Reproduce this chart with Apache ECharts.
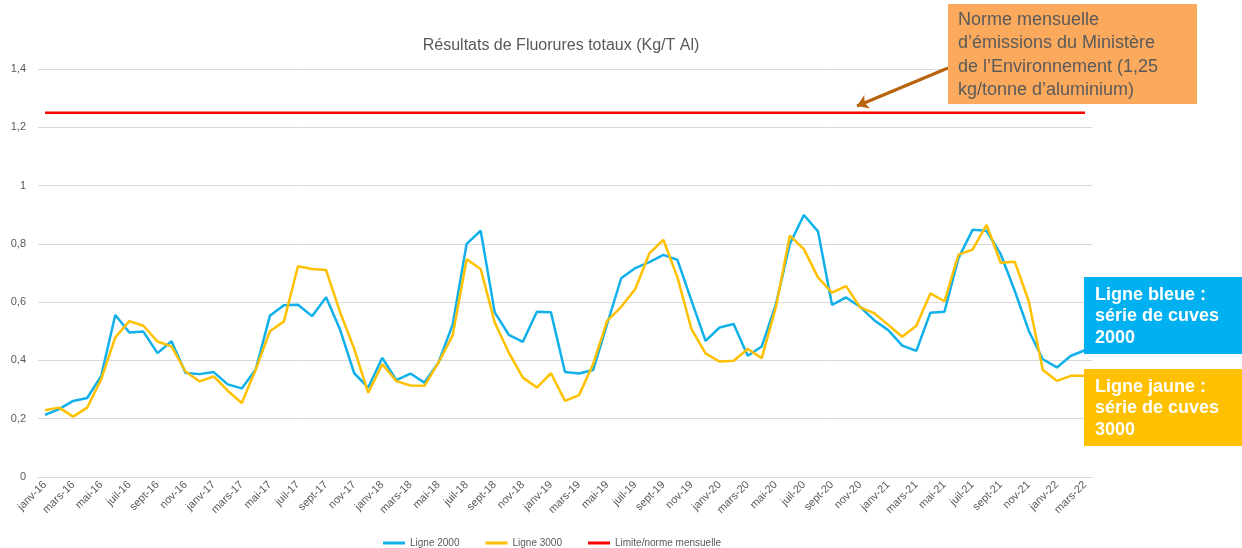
<!DOCTYPE html>
<html>
<head>
<meta charset="utf-8">
<script src="https://cdn.jsdelivr.net/npm/echarts@6/dist/echarts.min.js"></script>
<style>
  html, body { margin: 0; padding: 0; background: #fff; }
  #chart { width: 1242px; height: 548px; }
</style>
</head>
<body>
<div id="chart"></div>
<script>
// mois de janv-16 à mars-22
const monthNames = ["janv", "févr", "mars", "avr", "mai", "juin", "juil", "août", "sept", "oct", "nov", "déc"];
const months = [];
for (let y = 16; y <= 22; y++) {
  for (let m = 0; m < 12; m++) {
    if (y === 22 && m > 2) break;
    months.push(monthNames[m] + "-" + y);
  }
}

// Ligne 2000 (bleue)
const ligne2000 = [
  0.213, 0.233, 0.261, 0.271, 0.347, 0.556, 0.496, 0.499, 0.425, 0.466, 0.357, 0.353,
  0.360, 0.318, 0.304, 0.370, 0.553, 0.589, 0.591, 0.552, 0.617, 0.505, 0.356, 0.307,
  0.409, 0.332, 0.355, 0.324, 0.393, 0.522, 0.800, 0.845, 0.565, 0.488, 0.464, 0.567,
  0.565, 0.360, 0.355, 0.367, 0.525, 0.682, 0.717, 0.737, 0.762, 0.745, 0.605, 0.467,
  0.513, 0.525, 0.416, 0.448, 0.591, 0.800, 0.899, 0.843, 0.591, 0.616, 0.584, 0.538,
  0.504, 0.451, 0.433, 0.564, 0.567, 0.751, 0.848, 0.845, 0.765, 0.639, 0.502, 0.404,
  0.376, 0.416, 0.435
];

// Ligne 3000 (jaune)
const ligne3000 = [
  0.229, 0.238, 0.207, 0.238, 0.336, 0.479, 0.535, 0.519, 0.465, 0.448, 0.362, 0.328,
  0.345, 0.296, 0.254, 0.370, 0.500, 0.534, 0.723, 0.714, 0.710, 0.565, 0.440, 0.289,
  0.387, 0.329, 0.314, 0.313, 0.393, 0.485, 0.747, 0.714, 0.530, 0.427, 0.341, 0.307,
  0.356, 0.261, 0.281, 0.387, 0.536, 0.584, 0.645, 0.767, 0.814, 0.685, 0.507, 0.424,
  0.396, 0.399, 0.439, 0.408, 0.582, 0.828, 0.782, 0.685, 0.633, 0.655, 0.582, 0.562,
  0.522, 0.481, 0.519, 0.630, 0.603, 0.763, 0.780, 0.865, 0.735, 0.739, 0.603, 0.367,
  0.330, 0.347, 0.347
];

// norme mensuelle
const limite = months.map(() => 1.25);

const grey = "#595959";
const chart = echarts.init(document.getElementById("chart"));

chart.setOption({
  animation: false,
  title: {
    text: "Résultats de Fluorures totaux (Kg/T Al)",
    left: 556,
    top: 33,
    textAlign: "center",
    textStyle: { fontFamily: "Liberation Sans", fontSize: 16, fontWeight: "normal", color: grey }
  },
  grid: { left: 38, right: 150, top: 69, bottom: 71 },
  legend: {
    top: 538,
    left: 383,
    padding: 0,
    itemGap: 26,
    itemWidth: 22,
    itemHeight: 3,
    icon: "rect",
    textStyle: { fontFamily: "Liberation Sans", fontSize: 10, color: grey },
    data: ["Ligne 2000", "Ligne 3000", "Limite/norme mensuelle"]
  },
  xAxis: {
    type: "category",
    data: months,
    boundaryGap: true,
    axisLine: { lineStyle: { color: "#d9d9d9" } },
    axisTick: { interval: 1, lineStyle: { color: "#d9d9d9" }, length: 5 },
    axisLabel: {
      interval: 1,
      rotate: 45,
      fontFamily: "Liberation Sans",
      fontSize: 11,
      color: grey,
      margin: 6
    }
  },
  yAxis: {
    type: "value",
    min: 0,
    max: 1.4,
    interval: 0.2,
    axisLine: { show: false },
    axisTick: { show: false },
    splitLine: { lineStyle: { color: "#d9d9d9" } },
    axisLabel: {
      fontFamily: "Liberation Sans",
      fontSize: 11,
      color: grey,
      margin: 12,
      formatter: v => String(Math.round(v * 10) / 10).replace(".", ",")
    }
  },
  series: [
    {
      name: "Ligne 2000",
      type: "line",
      data: ligne2000,
      symbol: "none",
      color: "#10B0EA",
      lineStyle: { width: 2.5 }
    },
    {
      name: "Ligne 3000",
      type: "line",
      data: ligne3000,
      symbol: "none",
      color: "#FFC000",
      lineStyle: { width: 2.5 }
    },
    {
      name: "Limite/norme mensuelle",
      type: "line",
      data: limite,
      symbol: "none",
      color: "#FF0000",
      lineStyle: { width: 2.5 },
      markLine: {
        silent: true,
        symbol: ["none", "arrow"],
        symbolSize: 11,
        label: { show: false },
        lineStyle: { color: "#B8620C", width: 3, type: "solid" },
        data: [[{ x: 948, y: 68 }, { x: 857, y: 106 }]]
      }
    }
  ],
  graphic: [
    {
      type: "rect",
      shape: { x: 948, y: 4, width: 249, height: 100 },
      style: { fill: "#FBA95C" },
      z: 10
    },
    {
      type: "text",
      x: 958,
      y: 8,
      z: 11,
      style: {
        text: "Norme mensuelle\nd’émissions du Ministère\nde l’Environnement (1,25\nkg/tonne d’aluminium)",
        fontFamily: "Liberation Sans",
        fontSize: 18,
        lineHeight: 23.5,
        fill: "#5a5a5a"
      }
    },
    {
      type: "rect",
      shape: { x: 1084, y: 277, width: 158, height: 77 },
      style: { fill: "#00B0F0" },
      z: 10
    },
    {
      type: "text",
      x: 1095,
      y: 284,
      z: 11,
      style: {
        text: "Ligne bleue :\nsérie de cuves\n2000",
        fontFamily: "Liberation Sans",
        fontSize: 18,
        fontWeight: "bold",
        lineHeight: 21.5,
        fill: "#ffffff"
      }
    },
    {
      type: "rect",
      shape: { x: 1084, y: 369, width: 158, height: 77 },
      style: { fill: "#FFC000" },
      z: 10
    },
    {
      type: "text",
      x: 1095,
      y: 376,
      z: 11,
      style: {
        text: "Ligne jaune :\nsérie de cuves\n3000",
        fontFamily: "Liberation Sans",
        fontSize: 18,
        fontWeight: "bold",
        lineHeight: 21.5,
        fill: "#ffffff"
      }
    }
  ]
});
</script>
</body>
</html>
